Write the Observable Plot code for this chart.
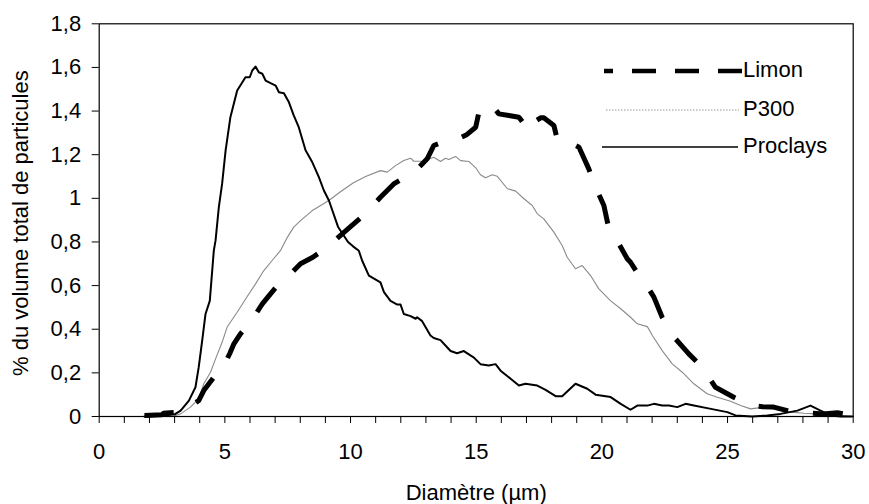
<!DOCTYPE html>
<html><head><meta charset="utf-8">
<script src="https://cdn.jsdelivr.net/npm/d3@7"></script>
<script src="https://cdn.jsdelivr.net/npm/@observablehq/plot@0.6"></script>
<style>
body{margin:0;background:#fff;}
#wrap{position:relative;width:869px;height:504px;font-family:"Liberation Sans",Arial,sans-serif;}
#legend{position:absolute;left:0;top:0;pointer-events:none;}
</style>
</head><body><div id="wrap"></div>
<script>
// ---- data ----
const seriesNames = ["Limon", "P300", "Proclays"];

const limonX = [1.8,2.5,2.55,3.2,3.5,3.96,4.16,4.56,4.96,5.2,5.36,5.62,6.02,6.49,6.8,7.15,7.55,8.01,8.5,9.0,9.5,10.0,10.5,11.19,11.72,12.26,12.7,13.05,13.31,13.65,14.18,14.6,14.98,15.11,15.5,15.64,15.9,16.3,16.7,17.1,17.29,17.56,17.69,18.09,18.22,18.49,18.82,19.09,19.48,19.75,20.08,20.28,20.48,20.68,21.01,21.14,21.4,21.74,22.07,22.4,22.93,23.46,23.99,24.52,25.25,25.98,26.4,26.84,27.38,27.91,28.3,28.8,29.37,30.0];
const limonY = [0.005,0.008,0.015,0.02,0.04,0.073,0.119,0.18,0.234,0.29,0.333,0.379,0.432,0.516,0.56,0.608,0.646,0.7,0.73,0.77,0.82,0.87,0.92,1.005,1.066,1.104,1.14,1.181,1.242,1.257,1.268,1.29,1.326,1.395,1.43,1.425,1.387,1.38,1.372,1.31,1.349,1.369,1.369,1.334,1.273,1.25,1.25,1.234,1.135,1.051,0.967,0.86,0.822,0.791,0.723,0.707,0.66,0.608,0.547,0.455,0.356,0.287,0.226,0.134,0.088,0.05,0.045,0.043,0.027,0.015,0.015,0.012,0.017,0.005];

const p300X = [2.9,3.24,3.63,3.96,4.16,4.43,4.63,4.89,5.09,5.49,5.89,6.22,6.55,6.88,7.21,7.48,7.74,8.01,8.48,9.14,9.6,10.1,10.6,11.19,11.46,11.79,12.12,12.39,12.52,12.92,13.31,13.58,13.78,13.91,14.18,14.38,14.71,14.98,15.17,15.37,15.64,15.84,16.24,16.57,16.9,17.23,17.43,17.69,18.09,18.42,18.62,18.95,19.22,19.55,19.88,20.35,20.75,21.14,21.41,21.81,22.01,22.4,22.8,23.2,23.66,24.19,24.59,25.12,25.52,25.92,26.45,26.98,27.52,28.04,28.57,28.97,29.5,29.96];
const p300Y = [0,0.012,0.043,0.081,0.15,0.203,0.264,0.34,0.41,0.478,0.55,0.608,0.669,0.715,0.76,0.82,0.868,0.898,0.944,0.99,1.03,1.07,1.1,1.127,1.12,1.15,1.173,1.184,1.17,1.17,1.188,1.169,1.184,1.178,1.192,1.173,1.169,1.14,1.108,1.094,1.108,1.101,1.044,1.033,0.998,0.967,0.929,0.906,0.845,0.784,0.73,0.677,0.692,0.646,0.585,0.53,0.494,0.455,0.425,0.412,0.371,0.302,0.241,0.203,0.15,0.104,0.088,0.07,0.05,0.035,0.043,0.031,0.02,0.015,0.012,0.008,0.005,0];

const proclaysX = [1.8,2.5,3.0,3.24,3.57,3.83,3.96,4.1,4.23,4.4,4.56,4.63,4.76,4.89,5.03,5.22,5.49,5.82,5.99,6.09,6.22,6.35,6.49,6.62,6.82,7.02,7.15,7.35,7.55,7.74,7.94,8.21,8.48,8.74,8.94,9.14,9.5,9.9,10.1,10.33,10.46,10.73,11.19,11.33,11.59,11.86,11.99,12.12,12.39,12.59,12.65,12.85,13.18,13.31,13.58,13.98,14.24,14.51,14.91,15.17,15.5,15.77,15.97,16.37,16.7,16.96,17.43,17.76,18.16,18.42,18.95,19.42,19.75,20.35,20.75,21.14,21.41,21.81,22.07,22.4,22.67,23.0,23.33,23.66,24.34,24.99,25.32,25.98,26.58,27.11,27.78,28.3,28.7,29.1,29.5,29.96];
const proclaysY = [0,0.003,0.01,0.027,0.073,0.134,0.226,0.35,0.47,0.53,0.76,0.807,0.96,1.066,1.22,1.372,1.494,1.555,1.555,1.586,1.604,1.578,1.571,1.54,1.528,1.517,1.486,1.482,1.44,1.38,1.326,1.22,1.165,1.097,1.036,0.99,0.87,0.8,0.78,0.76,0.715,0.646,0.615,0.57,0.53,0.513,0.513,0.47,0.46,0.448,0.455,0.437,0.371,0.36,0.35,0.30,0.29,0.30,0.27,0.24,0.234,0.24,0.21,0.173,0.142,0.15,0.142,0.122,0.093,0.093,0.15,0.127,0.1,0.089,0.058,0.031,0.05,0.05,0.058,0.05,0.05,0.043,0.058,0.05,0.035,0.02,0.005,0,0.005,0.012,0.027,0.05,0.027,0.005,0,0];

const xMajorTicks = [0,5,10,15,20,25,30];
const xMinorTicks = [1,2,3,4,6,7,8,9,11,12,13,14,16,17,18,19,21,22,23,24,26,27,28,29];
const yTicks = [0,0.2,0.4,0.6,0.8,1,1.2,1.4,1.6,1.8];
const yTickLabels = ["0","0,2","0,4","0,6","0,8","1","1,2","1,4","1,6","1,8"];
const xTitle = "Diamètre (µm)";
const yTitle = "% du volume total de particules";

// ---- build ----
const rows = (name, xs, ys) => xs.map((x, i) => ({series: name, x, y: ys[i]}));
const limon = rows(seriesNames[0], limonX, limonY);
const p300 = rows(seriesNames[1], p300X, p300Y);
const proclays = rows(seriesNames[2], proclaysX, proclaysY);

const FS = 22;
const chart = Plot.plot({
  width: 869, height: 504,
  marginLeft: 98.7, marginRight: 16.3, marginTop: 23.3, marginBottom: 88,
  style: {fontFamily: '"Liberation Sans", Arial, sans-serif', fontSize: FS + "px", color: "black", background: "white"},
  x: {domain: [0, 30]},
  y: {domain: [0, 1.8]},
  marks: [
    Plot.axisX({ticks: xMinorTicks, tickSize: 7, tickFormat: () => "", label: null}),
    Plot.axisX({ticks: xMajorTicks, tickSize: 7, tickPadding: 20, label: null, fontSize: FS}),
    Plot.axisY({ticks: yTicks, tickSize: 7, tickPadding: 11, label: null, fontSize: FS,
      tickFormat: d => yTickLabels[yTicks.findIndex(t => Math.abs(t - d) < 1e-9)]}),
    Plot.line(p300, {x: "x", y: "y", stroke: "#8a8a8a", strokeWidth: 1.1}),
    Plot.line(proclays, {x: "x", y: "y", stroke: "black", strokeWidth: 2}),
    Plot.line(limon, {x: "x", y: "y", stroke: "black", strokeWidth: 5, strokeDasharray: "30,25", strokeLinecap: "butt", strokeLinejoin: "miter"}),
    Plot.frame({stroke: "black", strokeWidth: 1.2}),
    Plot.text([xTitle], {text: d => d, frameAnchor: "bottom", dy: 76, lineAnchor: "middle", textAnchor: "middle", fontSize: FS, fill: "black"}),
    Plot.text([yTitle], {text: d => d, frameAnchor: "left", dx: -78, dy: 3, rotate: -90, lineAnchor: "middle", textAnchor: "middle", fontSize: FS, fill: "black"})
  ]
});
const wrap = document.getElementById("wrap");
wrap.appendChild(chart);

// ---- legend overlay ----
const legendItems = [
  {name: seriesNames[0], x1: 742, x2: 604, y: 71, stroke: "black", width: 4.5, dash: "24,19"},
  {name: seriesNames[1], x1: 606, x2: 739, y: 110, stroke: "#999", width: 1, dash: "1.5,1.5"},
  {name: seriesNames[2], x1: 602, x2: 738, y: 147, stroke: "black", width: 1.5, dash: null}
];
const lg = d3.select(wrap).append("svg").attr("id", "legend").attr("width", 869).attr("height", 504);
const g = lg.selectAll("g").data(legendItems).join("g");
g.append("line").attr("x1", d => d.x1).attr("x2", d => d.x2).attr("y1", d => d.y).attr("y2", d => d.y)
  .attr("stroke", d => d.stroke).attr("stroke-width", d => d.width).attr("stroke-dasharray", d => d.dash);
g.append("text").attr("x", 743).attr("y", d => d.y - 2).attr("dy", "0.35em")
  .attr("font-family", '"Liberation Sans", Arial, sans-serif').attr("font-size", FS).attr("fill", "black")
  .text(d => d.name);
</script>
</body></html>
